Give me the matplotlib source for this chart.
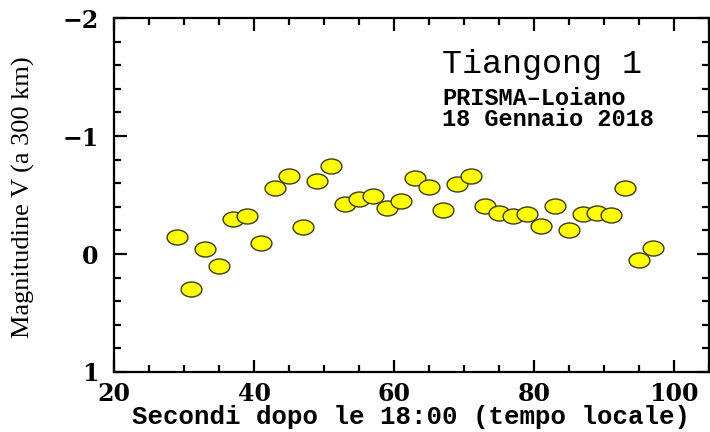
import matplotlib.pyplot as plt
from matplotlib.path import Path
from matplotlib.transforms import Affine2D
from matplotlib.ticker import MultipleLocator

# Tiangong 1 light curve, PRISMA-Loiano, 18 Jan 2018
seconds = [29, 31, 33, 35, 37, 39, 41, 43, 45, 47, 49, 51, 53, 55, 57, 59, 61, 63,
           65, 67, 69, 71, 73, 75, 77, 79, 81, 83, 85, 87, 89, 91, 93, 95, 97]
magnitude = [-0.14, 0.30, -0.04, 0.10, -0.30, -0.32, -0.09, -0.56, -0.66, -0.23,
             -0.62, -0.75, -0.42, -0.47, -0.49, -0.39, -0.45, -0.64, -0.57, -0.37,
             -0.59, -0.66, -0.41, -0.35, -0.32, -0.34, -0.24, -0.41, -0.20, -0.34,
             -0.35, -0.33, -0.56, 0.05, -0.05]

# slightly flattened circle like the original plot symbols
ellipse = Path.unit_circle().transformed(Affine2D().scale(1.0, 0.72))

fig = plt.figure(figsize=(7.1, 4.32), dpi=100)
ax = fig.add_axes([0.1606, 0.1389, 0.838, 0.8194])

ax.plot(seconds, magnitude, linestyle='none', marker=ellipse, markersize=15,
        markerfacecolor='#ffff00', markeredgecolor='#3c3c10', markeredgewidth=1.0)

ax.set_xlim(20, 105)
ax.set_ylim(1, -2)

ax.xaxis.set_major_locator(MultipleLocator(20))
ax.xaxis.set_minor_locator(MultipleLocator(5))
ax.yaxis.set_major_locator(MultipleLocator(1))
ax.yaxis.set_minor_locator(MultipleLocator(0.2))

for s in ax.spines.values():
    s.set_linewidth(1.6)

ax.tick_params(which='both', direction='in', top=True, right=True, width=1.6)
ax.tick_params(which='major', length=9)
ax.tick_params(which='minor', length=5)
ax.tick_params(axis='x', which='major', pad=7)
ax.tick_params(axis='y', which='major', pad=11)

for lab in ax.get_xticklabels() + ax.get_yticklabels():
    lab.set_fontfamily('DejaVu Serif')
    lab.set_fontweight('bold')
    lab.set_fontsize(17)

ax.set_xlabel('Secondi dopo le 18:00 (tempo locale)', family='Liberation Mono',
              fontweight='bold', fontsize=18.5, va='center')
ax.xaxis.set_label_coords(0.499, -0.127)
ax.set_ylabel('Magnitudine V (a 300 km)', family='Liberation Serif',
              fontsize=19, va='center')
ax.yaxis.set_label_coords(-0.152, 0.494)

ax.text(0.552, 0.87, 'Tiangong 1', transform=ax.transAxes, family='Liberation Mono',
        fontsize=24, va='center', ha='left')
ax.text(0.552, 0.773, 'PRISMA\u2013Loiano', transform=ax.transAxes,
        family='Liberation Mono', fontweight='bold', fontsize=17, va='center', ha='left')
ax.text(0.552, 0.712, '18 Gennaio 2018', transform=ax.transAxes,
        family='Liberation Mono', fontweight='bold', fontsize=17, va='center', ha='left')

fig.savefig('out.png', dpi=100)
